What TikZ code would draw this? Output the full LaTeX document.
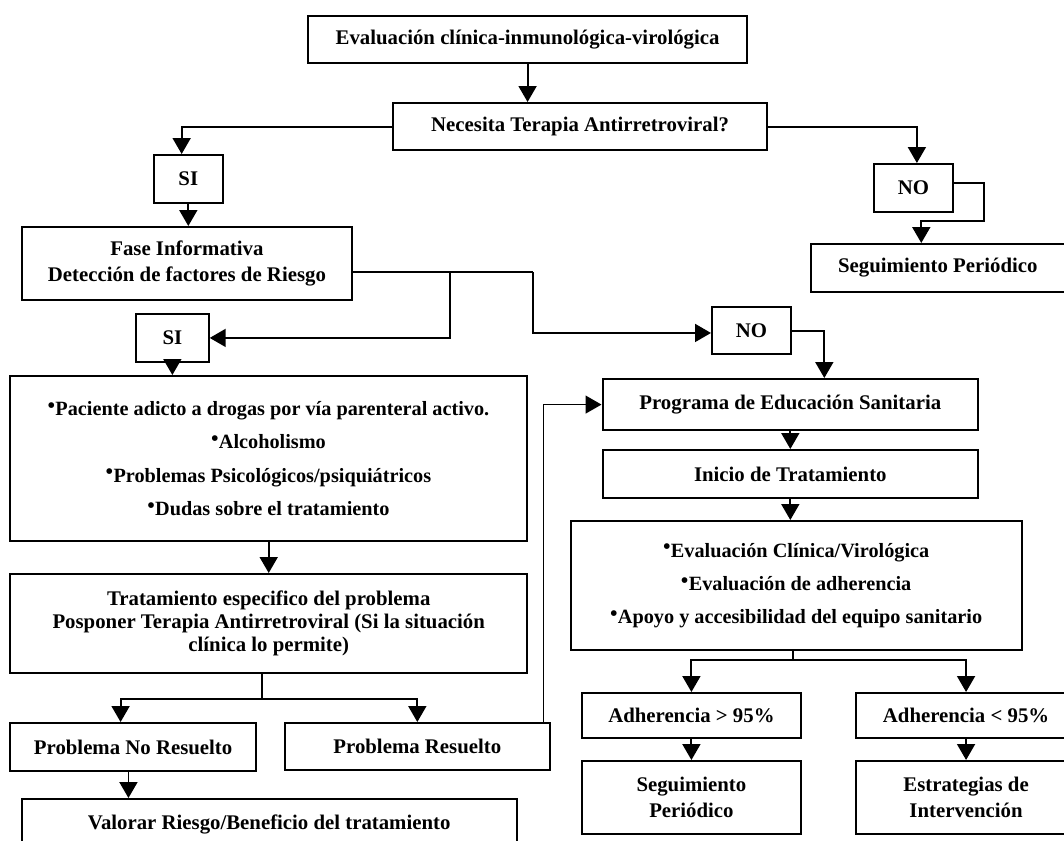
\documentclass[tikz,border=0pt]{standalone}
\usepackage{fontspec}
\setmainfont{Liberation Serif}
\newfontfamily\dotfont{DejaVu Sans}
\usetikzlibrary{arrows.meta}

% raised bullet used in the list boxes
\newcommand\bul{\raisebox{6.2pt}{\dotfont\fontsize{5.6}{5.6}\selectfont ●}\kern0.6pt}
% box given by its corners (x1,y1) (x2,y2) in pixel units
\newcommand\flowbox[7][]{%
  \node[box,#1,minimum width={(#4-#2)*0.75pt},minimum height={(#5-#3)*0.75pt}]
    (#6) at (#2,#3) {#7};}

\begin{document}
\begin{tikzpicture}[x=0.75pt,y=-0.75pt,
  every node/.style={font=\fontsize{15.6}{19}\selectfont\bfseries},
  box/.style={draw,line width=1.6pt,rectangle,inner sep=0pt,align=center,anchor=north west},
  link/.style={line width=1.4pt},
  arr/.style={link,-{Triangle[length=12pt,width=13.5pt]}},
  list/.style={font=\fontsize{15.2}{25}\selectfont\bfseries},
  two/.style={font=\fontsize{15.6}{19.5}\selectfont\bfseries},
  three/.style={font=\fontsize{15.6}{17}\selectfont\bfseries}
]
\useasboundingbox (0,0) rectangle (1064,840);
\clip (0,0) rectangle (1064,840);

% boxes
\flowbox{307}{15}{746}{62}{ev}{Evaluación clínica-inmunológica-virológica}
\flowbox{392}{102}{766}{149}{nec}{Necesita Terapia Antirretroviral?}
\flowbox{152.5}{154}{222}{201.7}{si1}{SI}
\flowbox{873}{163}{952}{211}{no1}{NO}
\flowbox{810}{243}{1063.5}{290.7}{seg1}{Seguimiento Periódico}
\flowbox[two]{20.7}{226}{351}{299}{fase}{Fase Informativa\\Detección de factores de Riesgo}
\flowbox{135}{313}{207.6}{360.7}{si2}{SI}
\flowbox{711}{306}{789.6}{353}{no2}{NO}
\flowbox[list]{9.3}{375}{526}{540}{big}{\bul Paciente adicto a drogas por vía parenteral activo.\\
  \bul Alcoholismo\\ \bul Problemas Psicológicos/psiquiátricos\\ \bul Dudas sobre el tratamiento}
\flowbox[three]{9.3}{573}{526}{671.7}{trat}{Tratamiento especifico del problema\\
  Posponer Terapia Antirretroviral (Si la situación\\clínica lo permite)}
\flowbox{9.3}{722}{254.8}{770}{pnr}{Problema No Resuelto}
\flowbox{284}{722}{548.5}{769}{pr}{Problema Resuelto}
\flowbox{20.7}{798}{515.5}{848}{val}{Valorar Riesgo/Beneficio del tratamiento}
\flowbox{601.5}{378}{977}{429}{prog}{Programa de Educación Sanitaria}
\flowbox{601.5}{449}{977}{496.7}{ini}{Inicio de Tratamiento}
\flowbox[list]{570}{520}{1020.7}{649}{evb}{\bul Evaluación Clínica/Virológica\\
  \bul Evaluación de adherencia\\ \bul Apoyo y accesibilidad del equipo sanitario}
\flowbox{580.7}{692}{800}{737}{a1}{Adherencia > 95\%}
\flowbox{855}{692}{1075}{737}{a2}{Adherencia < 95\%}
\flowbox[two]{580.7}{760}{800}{833}{s2}{Seguimiento\\Periódico}
\flowbox[two]{855}{760}{1075}{833}{est}{Estrategias de\\Intervención}

% connectors
\draw[arr] (ev.south) -- (ev.south |- nec.north);
\draw[arr] (nec.west) -| ([xshift=-5pt]si1.north);
\draw[arr] (si1.south) -- (si1.south |- fase.north);
\draw[arr] (nec.east) -| ([xshift=2.5pt]no1.north);
\draw[arr] ([yshift=4pt]no1.east) -| ++(30,38.3) -| ([xshift=-12.4pt]seg1.north);

\coordinate (fr) at ([yshift=-6.4pt]fase.east);
\draw[link] (fr) -- ++(180,0) coordinate (j2);
\path (fr) ++(97,0) coordinate (j1);
\draw[arr] (j1) |- (si2.east);
\draw[arr] (j2) |- ([yshift=-1.8pt]no2.west);
\draw[arr] (no2.east) -| ([xshift=25.5pt]prog.north);

\draw[arr] (si2.south) -- (si2.south |- big.north);
\draw[arr] (big.south) -- (big.south |- trat.north);
\draw[link] ([xshift=-5pt]trat.south) -- ++(0,25.3) coordinate (k);
\draw[arr] (k) -| ([xshift=-9.4pt]pnr.north);
\draw[arr] (k) -| (pr.north);
\draw[arr] ([xshift=-3.5pt]pnr.south) -- ([xshift=-3.5pt]pnr.south |- val.north);
\draw[arr,line width=0.9pt] ([xshift=-5.25pt]pr.north east) |- (prog.west);

\draw[arr] (prog.south) -- (ini.north);
\draw[arr] (ini.south) -- (ini.south |- evb.north);
\draw[link] ([xshift=-2.7pt]evb.south) -- ++(0,9) coordinate (m);
\draw[arr] (m) -| (a1.north);
\draw[arr] (m) -| (a2.north);
\draw[arr] (a1.south) -- (s2.north);
\draw[arr] (a2.south) -- (est.north);
\end{tikzpicture}
\end{document}
